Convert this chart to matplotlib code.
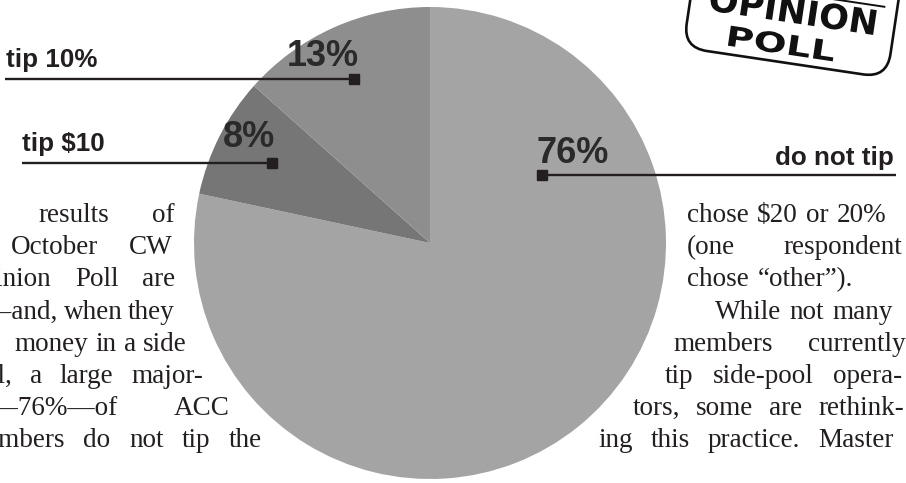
import matplotlib
matplotlib.use("Agg")
import matplotlib.pyplot as plt
from matplotlib.patches import FancyBboxPatch, PathPatch
from matplotlib.textpath import TextPath
from matplotlib.font_manager import FontProperties
from matplotlib.transforms import Affine2D

# ---------------- data ----------------
categories = ["do not tip", "tip $10", "tip 10%"]
values = [76, 8, 13]
pct_labels = ["76%", "8%", "13%"]
colors = ["#a4a4a4", "#767676", "#8e8e8e"]

stamp_lines = ["OPINION", "POLL"]

left_words = [
    ["results", "of"],
    ["October", "CW"],
    ["Opinion", "Poll", "are"],
    ["in\u2014and,", "when", "they"],
    ["money", "in", "a", "side"],
    ["pool,", "a", "large", "major-"],
    ["ity\u201476%\u2014of", "ACC"],
    ["members", "do", "not", "tip", "the"],
]
right_words = [
    ["chose", "$20", "or", "20%"],
    ["(one", "respondent"],
    ["chose", "\u201cother\u201d)."],
    ["While", "not", "many"],
    ["members", "currently"],
    ["tip", "side-pool", "opera-"],
    ["tors,", "some", "are", "rethink-"],
    ["ing", "this", "practice.", "Master"],
]

# ---------------- layout (image pixel coords, y down) ----------------
W, H = 906, 483
def Y(y):
    return H - y

ink = "#231f20"
pie_center = (430, 243)
pie_radius = 236

# (label x, label ha, label baseline, pct x, pct baseline, line y, line x0, line x1, marker x)
label_layout = [
    (894, "right", 165, 536, 163, 175, 542, 896, 542),
    (22, "left", 151, 223, 147, 163, 22, 272, 272),
    (6, "left", 67, 287, 66, 79, 5, 354, 354),
]

baselines = [222 + 32.2 * k for k in range(8)]
# each line: (first-word anchor x, anchor side, last-word anchor x, anchor side)
left_anchor = [
    (38, "left", 175, "right"),
    (11, "left", 173, "right"),
    (52, "right", 175, "right"),
    (58, "right", 175, "right"),
    (14, "left", 187, "right"),
    (12, "right", 203, "right"),
    (118, "right", 230, "right"),
    (65, "right", 262, "right"),
]
right_anchor = [
    (687, "left", 837, "left"),
    (687, "left", 783, "left"),
    (687, "left", 758, "left"),
    (715, "left", 832, "left"),
    (673, "left", 808, "left"),
    (665, "left", 833, "left"),
    (633, "left", 818, "left"),
    (633, "right", 818, "left"),
]

# ---------------- figure ----------------
fig = plt.figure(figsize=(9.06, 4.83), dpi=100)
fig.patch.set_facecolor("white")
ax = fig.add_axes([0, 0, 1, 1])

ax.pie(values, colors=colors, startangle=90, counterclock=False,
       center=(pie_center[0], Y(pie_center[1])), radius=pie_radius,
       wedgeprops=dict(linewidth=0))
ax.set_xlim(0, W)
ax.set_ylim(0, H)
ax.set_aspect("equal")
ax.axis("off")

# leader lines and labels
for cat, pct, lay in zip(categories, pct_labels, label_layout):
    lx, lha, lb, px, pb, ly, x0, x1, mx = lay
    ax.text(lx, Y(lb), cat, ha=lha, va="baseline", fontsize=18.7,
            fontweight="bold", family="Liberation Sans", color=ink)
    ax.text(px, Y(pb), pct, ha="left", va="baseline", fontsize=26,
            fontweight="bold", family="Liberation Sans", color="#2a2a2a")
    ax.plot([x0, x1], [Y(ly), Y(ly)], color=ink, lw=1.7, solid_capstyle="butt")
    ax.plot([mx], [Y(ly)], marker="s", ms=7.5, color=ink, mec=ink)

# body text, justified between anchors
renderer = fig.canvas.get_renderer()
body_kw = dict(va="baseline", fontsize=19.5, family="Liberation Serif", color=ink)

def set_line(words, anchor, b):
    a, aside, z, zside = anchor
    texts = [ax.text(0, Y(b), w, ha="left", **body_kw) for w in words]
    widths = [t.get_window_extent(renderer=renderer).width for t in texts]
    first_left = a if aside == "left" else a - widths[0]
    last_left = z if zside == "left" else z - widths[-1]
    n = len(words)
    if n == 1:
        texts[0].set_x(first_left)
        return
    mid = sum(widths[1:-1])
    gap = (last_left - (first_left + widths[0]) - mid) / (n - 1)
    x = first_left
    for t, w in zip(texts, widths):
        t.set_x(x)
        x += w + gap
    texts[-1].set_x(last_left)

for words, anc, b in zip(left_words, left_anchor, baselines):
    set_line(words, anc, b)
for words, anc, b in zip(right_words, right_anchor, baselines):
    set_line(words, anc, b)

# stamp
rot = Affine2D().rotate_deg(-8.5).translate(787, Y(63))
box = FancyBboxPatch((-105, 0), 206, 150,
                     boxstyle="round,pad=0,rounding_size=24",
                     fc="none", ec="#111111", lw=1.9,
                     transform=rot + ax.transData)
ax.add_patch(box)
ax.plot([-100, 88], [70, 70], color="#111111", lw=1.4,
        transform=rot + ax.transData)

fp = FontProperties(family="DejaVu Sans", weight="bold")
def stamp_word(s, cx, base, cap, width):
    tp = TextPath((0, 0), s, size=100, prop=fp)
    ext = tp.get_extents()
    sx = width / ext.width
    sy = cap / ext.height
    tr = (Affine2D().translate(-ext.x0 - ext.width / 2, -ext.y0)
          .scale(sx, sy).translate(cx, base) + rot + ax.transData)
    ax.add_patch(PathPatch(tp, transform=tr, fc="#111111", ec="none"))

stamp_word(stamp_lines[0], -2, 40, 26, 166)
stamp_word(stamp_lines[1], -8, 8, 21, 106)

fig.savefig("out.png", dpi=100, facecolor="white")
